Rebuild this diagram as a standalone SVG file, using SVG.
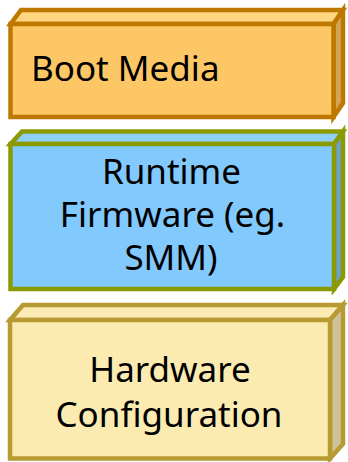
<svg xmlns="http://www.w3.org/2000/svg" width="348" height="462" viewBox="0 0 348 462">
  <style>
    .lbl { font-family: "Noto Sans", "Open Sans", "Liberation Sans", sans-serif; font-size: 35px; fill: #000; }
    .mid { text-anchor: middle; }
    .edge { stroke-width: 4.5; stroke-linejoin: miter; }
  </style>
  <rect width="348" height="462" fill="#fff"/>

  <!-- Boot media block -->
  <g id="boot-media" class="edge" stroke="#BE7800">
    <polygon points="10.5,24 21,10 343,10 333.5,24" fill="#FFD580"/>
    <polygon points="333.5,24 343,10 343,103 333.5,117" fill="#D3A558"/>
    <rect x="10.5" y="24" width="323" height="93" fill="#FDC765"/>
    <text class="lbl" x="31" y="81" stroke="none">Boot Media</text>
  </g>

  <!-- Runtime firmware block -->
  <g id="runtime-firmware" class="edge" stroke="#8A9A00">
    <polygon points="10.5,144 22,131.5 343,131.5 334,144" fill="#8FD0F8"/>
    <polygon points="334,144 343,131.5 343,277 334,289" fill="#6AA2CF"/>
    <rect x="10.5" y="144" width="323.5" height="145" fill="#82C9FD"/>
    <text class="lbl mid" x="171.5" y="184" stroke="none">Runtime</text>
    <text class="lbl mid" x="172.5" y="227" stroke="none">Firmware (eg.</text>
    <text class="lbl mid" x="171" y="270" stroke="none">SMM)</text>
  </g>

  <!-- Hardware configuration block -->
  <g id="hardware-configuration" class="edge" stroke="#B89A33">
    <polygon points="10,320 23,305 343,305 330,320" fill="#FDEBB5"/>
    <polygon points="330,320 343,305 343,444 330,458.5" fill="#CFC29A"/>
    <rect x="10" y="320" width="320" height="138.5" fill="#FBEBB1"/>
    <text class="lbl mid" x="170" y="382" stroke="none">Hardware</text>
    <text class="lbl mid" x="169" y="427" stroke="none">Configuration</text>
  </g>
</svg>
